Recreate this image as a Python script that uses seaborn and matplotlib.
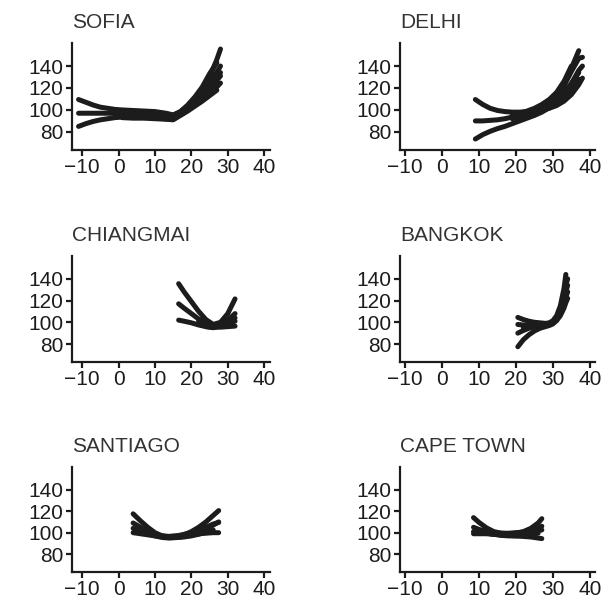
import matplotlib
matplotlib.use("Agg")
import matplotlib.pyplot as plt
import numpy as np
import pandas as pd
import seaborn as sns

nan = np.nan

# ---- data: relative risk (%) against temperature (C) ----
sofia_temp = [-11, -9, -7, -5, -3, -1, 1, 4, 7, 10, 13, 15, 17, 19, 21, 23, 25, 27, 28]
sofia_curves = [
    [109.5, 107, 104.5, 102.5, 101.5, 100.5, 100, 99.5, 99, 98.5, 97, 95.5, 98.5, 103.5, 109.5, 116.5, 124.5, 134.5, 140],
    [97, 97, 97, 97, 97, 97, 97, 97, 96.5, 96, 95, 94, 98, 103.5, 110.5, 119, 130, 146, 155.5],
    [85, 87.5, 89.5, 91, 92, 93, 93.5, 93.5, 93.5, 93, 92, 91.5, 95.5, 100, 104.5, 109.5, 115, 121, 124.5],
    [nan, nan, nan, nan, nan, 99, 99, 98.5, 98, 97.5, 96.5, 95, 97.5, 102, 107.5, 114, 121.5, 130, 134],
    [nan, nan, nan, nan, nan, 95, 95, 95, 95, 94.5, 94, 93, 96.5, 101.5, 107, 113, 119, 127, 131],
    [nan, nan, nan, nan, nan, nan, 98, 97.5, 97, 96.5, 95.5, 94, 98.5, 104.5, 112, 121, 133, 143, nan],
    [nan, nan, nan, nan, nan, nan, 93, 92.5, 92.5, 92, 91.5, 91, 95, 99, 103.5, 108, 113, 118, nan],
]

delhi_temp = [9, 11, 13, 15, 17, 19, 21, 23, 25, 27, 29, 31, 33, 35, 37, 38]
delhi_curves = [
    [109.5, 105, 101.5, 99.5, 98.5, 98, 98, 98.5, 99, 100, 101.5, 104, 108, 114, 123, 129],
    [90, 90, 90.5, 91, 92, 93.5, 95, 97, 99, 102, 106, 112, 122, 138, 154, nan],
    [73.5, 77.5, 80.5, 83, 85, 87.5, 90, 92.5, 95, 98, 102, 107, 114, 124, 136, 140],
    [nan, nan, nan, nan, nan, 95, 96.5, 98, 100, 103, 107, 113, 122, 135, 147, 148],
    [nan, nan, nan, nan, nan, 92, 94, 96, 98.5, 101, 104, 108.5, 115, 124, 134, nan],
    [nan, nan, nan, nan, nan, nan, 92, 94, 96.5, 99, 102, 106, 111, 119, 128, nan],
    [nan, nan, nan, nan, nan, nan, 97, 99, 101.5, 105, 109.5, 116, 126, 140, nan, nan],
]

chiangmai_temp = [16.5, 18, 20, 22, 24, 26, 28, 30, 32]
chiangmai_curves = [
    [135.5, 128, 119, 110, 102.5, 98, 100, 108, 121.5],
    [117, 113, 108, 103, 99.5, 97.5, 98.5, 102, 108],
    [102, 101, 99.5, 97.5, 96, 95.5, 95.5, 96, 96.5],
    [nan, nan, nan, 101, 98, 96.5, 97.5, 101, 104],
    [nan, nan, nan, nan, 96, 95, 96.5, 99, 101],
]

bangkok_temp = [20.5, 22, 23.5, 25, 26.5, 28, 29, 30, 31, 32, 33, 33.5, 34]
bangkok_curves = [
    [104.5, 102.5, 101, 100, 99.5, 99, 99.5, 101.5, 106, 115, 131, 144, nan],
    [90, 92.5, 94.5, 96, 97, 97.5, 98, 100, 104, 111, 121, 128, 134],
    [77.5, 84, 88.5, 92, 94.5, 96, 97, 98.5, 101.5, 106, 113, 118, 122],
    [98, 97.5, 97.5, 98, 98, 98.5, 99, 100.5, 104.5, 112, 125, 134, 140],
    [nan, 95, 96, 97, 97.5, 98, 98.5, 100, 103, 109, 117, 123, 128],
]

santiago_temp = [4, 6, 8, 10, 12, 14, 16, 18, 20, 22, 24, 26, 27.5]
santiago_curves = [
    [117.5, 111, 105, 100, 97, 96, 96.5, 98, 101, 105, 110, 116, 120.5],
    [109, 105, 101, 98.5, 97, 96.5, 97, 98.5, 100, 102.5, 105, 108, 109.5],
    [100, 99, 98, 97, 96.5, 96.5, 97, 97.5, 98, 99, 99.5, 100, 100],
    [104, 101, 99, 97, 95.5, 95, 95.5, 96.5, 98.5, 101, 104, 107, 110],
    [nan, 103, 100, 98, 96.5, 95.5, 95.5, 96, 97, 98.5, 100.5, 102.5, nan],
]

capetown_temp = [8.5, 10, 12, 14, 16, 18, 20, 22, 24, 26, 27]
capetown_curves = [
    [114, 109.5, 104.5, 101, 99.5, 99, 99.5, 101, 104, 109, 113],
    [105, 103, 101, 100, 99.5, 99.5, 100, 100.5, 101, 102, 102.5],
    [99, 99, 99, 98.5, 98, 97.5, 97, 96.5, 96, 95, 94.5],
    [101, 100.5, 99.5, 98.5, 98, 98, 98.5, 99.5, 101, 104, 106],
    [nan, 102, 100, 98.5, 97.5, 97, 97, 97.5, 98.5, 99.5, nan],
]

cities = ["SOFIA", "DELHI", "CHIANGMAI", "BANGKOK", "SANTIAGO", "CAPE TOWN"]
temps = [sofia_temp, delhi_temp, chiangmai_temp, bangkok_temp, santiago_temp, capetown_temp]
curves = [sofia_curves, delhi_curves, chiangmai_curves, bangkok_curves,
          santiago_curves, capetown_curves]

x_ticks = [-10, 0, 10, 20, 30, 40]
x_labels = ["\u221210", "0", "10", "20", "30", "40"]
y_ticks = [80, 100, 120, 140]

sns.set_theme(style="ticks")
plt.rcParams["font.family"] = ["Liberation Sans", "DejaVu Sans"]
plt.rcParams["axes.linewidth"] = 1.6
INK = "#1c1c1c"

fig = plt.figure(figsize=(6.04, 5.99), dpi=100)

cols = [(0.1192, 0.3278, (-12.8, 41.6)), (0.6623, 0.3228, (-11.4, 41.4))]
rows = [(0.7496, 0.1786), (0.3957, 0.1770), (0.0451, 0.1753)]

for i, city in enumerate(cities):
    x0, w, xlim = cols[i % 2]
    y0, h = rows[i // 2]
    ax = fig.add_axes([x0, y0, w, h])

    recs = []
    for k, vals in enumerate(curves[i]):
        for t, v in zip(temps[i], vals):
            if not np.isnan(v):
                recs.append({"temp": t, "rr": v, "curve": k})
    df = pd.DataFrame(recs)

    sns.lineplot(data=df, x="temp", y="rr", units="curve", estimator=None,
                 color=INK, linewidth=3.6, legend=False, ax=ax)

    ax.set_xlim(*xlim)
    ax.set_ylim(63.5, 161)
    ax.set_xticks(x_ticks)
    ax.set_yticks(y_ticks)
    ax.set_xticklabels(x_labels)
    ax.set_xlabel("")
    ax.set_ylabel("")
    ax.tick_params(labelsize=15, length=4, width=1.6, pad=2, colors=INK)
    for s in ("left", "bottom"):
        ax.spines[s].set_color(INK)
    sns.despine(ax=ax)
    ax.set_title(city, loc="left", fontsize=15, pad=11, color="#333333")

fig.savefig("out.png", dpi=100)
